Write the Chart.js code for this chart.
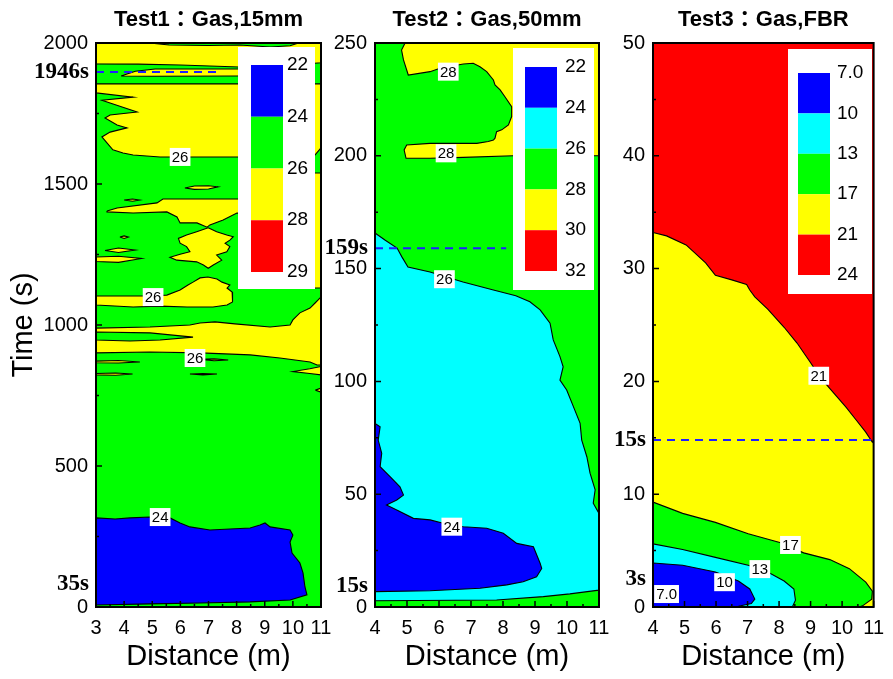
<!DOCTYPE html>
<html>
<head>
<meta charset="utf-8">
<title>Gas temperature contours</title>
<script src="https://cdn.jsdelivr.net/npm/chart.js@4.4.1/dist/chart.umd.min.js"></script>
<style>
  html, body { margin: 0; padding: 0; background: #fff; }
  #wrap { position: relative; width: 893px; height: 679px; overflow: hidden; }
  canvas { position: absolute; top: 0; }
</style>
</head>
<body>
<div id="wrap">
  <canvas id="c1" width="345" height="679" style="left:0px"></canvas>
  <canvas id="c2" width="300" height="679" style="left:325px"></canvas>
  <canvas id="c3" width="293" height="679" style="left:600px"></canvas>
</div>
<script>
// colours of the contour levels
var BLUE = '#0000ff', CYAN = '#00ffff', GREEN = '#00ff00', YELLOW = '#ffff00', RED = '#ff0000';
var FONT = "'Liberation Sans', Arial, 'Noto Sans CJK TC', sans-serif";
var SERIF = "'Liberation Serif', 'Times New Roman', serif";

// ---------- Test1 : Gas,15mm ----------
var t1Levels = ['22', '24', '26', '28', '29'];
var t1LegendColors = [BLUE, GREEN, YELLOW, RED];
var t1Base = [[3, 0], [11, 0], [11, 2000], [3, 2000]];
var t1Yellow = [
  [[3, 2000], [11, 2000], [11, 1930], [9.5, 1918], [8.1, 1915], [6, 1922], [4.5, 1925], [3, 1926]],
  [[3.89, 1883], [4.4, 1900], [5.1, 1908], [8.1, 1908], [10.5, 1905], [10.6, 1893], [10.5, 1886], [8, 1883], [5, 1882]],
  [[3, 1855], [11, 1855], [11, 1628], [10.79, 1603], [8.12, 1596], [6.7, 1596], [5.28, 1596], [4.32, 1603], [3.96, 1610],
   [3.6, 1621], [3.39, 1646], [3.21, 1667], [3.5, 1684], [4.1, 1699], [3.75, 1709], [3.32, 1734], [3.5, 1745],
   [4.46, 1755], [3.5, 1787], [3.21, 1797], [4.32, 1808], [3, 1823]],
  [[6.16, 1486], [6.5, 1493], [7.0, 1494], [7.34, 1490], [7.0, 1482], [6.5, 1481]],
  [[10.75, 1539], [11, 1539], [11, 1131], [10.75, 1131]],
  [[4.0, 1443], [4.3, 1447], [4.55, 1443], [4.3, 1439]],
  [[3.39, 1404], [3.75, 1415], [5.17, 1433], [5.38, 1447], [8.01, 1447], [9.9, 1443], [9.9, 1394], [8.01, 1397],
   [7.52, 1372], [7.05, 1355], [6.95, 1347], [6.59, 1362], [5.99, 1362], [5.88, 1383], [5.52, 1401], [4.32, 1397], [3.39, 1401]],
  [[6.99, 1345], [7.29, 1331], [7.65, 1319], [7.88, 1313], [7.76, 1301], [7.59, 1290], [7.76, 1278], [7.65, 1260],
   [7.29, 1248], [7.47, 1230], [7.17, 1213], [6.99, 1201], [6.82, 1213], [6.58, 1224], [5.87, 1230], [5.63, 1240],
   [5.99, 1251], [6.34, 1260], [6.22, 1278], [5.99, 1290], [5.93, 1307], [6.22, 1319], [6.58, 1331]],
  [[3.85, 1312], [4.0, 1316], [4.15, 1312], [4.0, 1307]],
  [[3.32, 1264], [3.8, 1273], [4.39, 1266], [3.8, 1257]],
  [[3, 1241], [3.8, 1244], [4.62, 1236], [3.8, 1222], [3, 1225]],
  [[3, 1103], [4.81, 1103], [5.52, 1106], [5.99, 1124], [6.27, 1142], [6.45, 1152], [6.7, 1167], [6.98, 1170],
   [7.3, 1163], [7.48, 1152], [7.76, 1142], [7.66, 1131], [7.84, 1117], [7.87, 1099], [7.84, 1082], [7.66, 1071],
   [7.16, 1064], [6.24, 1064], [5.28, 1067], [4.32, 1064], [3, 1071]],
  [[3, 989], [4.92, 993], [6.34, 1000], [6.7, 1007], [7.23, 1011], [7.94, 1004], [9.19, 993], [9.9, 1000], [10.0, 1018],
   [10.25, 1043], [10.61, 1060], [10.79, 1078], [11, 1099], [11, 858], [10.86, 858], [10.61, 869], [9.54, 883],
   [8.48, 894], [6.7, 901], [4.92, 904], [3, 901]],
  [[11, 853], [10.6, 845], [10.0, 835], [10.6, 828], [11, 823]],
  [[3, 872], [3.8, 874], [4.56, 869], [3.8, 865], [3, 866]],
  [[6.7, 878], [7.2, 880], [7.7, 876], [7.2, 873]],
  [[6.34, 826], [6.8, 828], [7.3, 826], [6.8, 823]],
  [[3, 828], [3.7, 830], [4.3, 826], [3.7, 822], [3, 823]],
  [[10.8, 769], [11, 776], [11, 762]]
];
var t1Green = [
  [[4.9, 2000], [5.6, 1993], [7, 1991], [8.1, 1993], [9.2, 1986], [9.9, 1990], [10.2, 2000]],
  [[3, 975], [4.92, 972], [6.45, 957], [5.28, 947], [4.21, 943], [3, 947]]
];
var t1Blue = [[3, 316], [3.68, 312], [4.21, 316], [4.92, 319], [5.63, 316], [5.99, 298], [6.34, 284], [7.05, 273],
  [8.48, 280], [8.83, 291], [9.01, 298], [9.19, 284], [9.9, 273], [10.0, 255], [9.9, 230], [9.97, 191], [10.25, 156],
  [10.36, 121], [10.43, 71], [10.5, 43], [9.9, 25], [8.48, 18], [6.7, 14], [4.92, 11], [3, 7]];
var t1LabelX = [5.99, 5.03, 6.52, 5.28];
var t1LabelY = [1596, 1099, 883, 319];
var t1LabelText = ['26', '26', '26', '24'];
var t1MarkText = ['1946s', '35s'];
var t1MarkY = [1897, 82];
var t1DashX = [3, 7.4];
var t1DashY = 1897;

// ---------- Test2 : Gas,50mm ----------
var t2Levels = ['22', '24', '26', '28', '30', '32'];
var t2LegendColors = [BLUE, CYAN, GREEN, YELLOW, RED];
var t2Base = [[4, 0], [11, 0], [11, 250], [4, 250]];
var t2Yellow = [[4.94, 250], [11, 250], [11, 200], [8.32, 200], [6.76, 199.3], [5.72, 198.9], [4.97, 198.9],
  [4.91, 202.6], [4.99, 204.8], [5.72, 205.5], [7.18, 205.5], [7.54, 206.3], [7.7, 207], [7.75, 207.8], [7.8, 210.7],
  [7.96, 211.5], [8.17, 213.7], [8.27, 217.4], [8.27, 221.8], [8.06, 226.2], [7.91, 229.2], [7.75, 231.4],
  [7.7, 233.6], [7.49, 237.3], [7.28, 239.5], [7.07, 241], [6.76, 240.7], [6.03, 238.8], [5.72, 237.3],
  [5.04, 235.8], [4.89, 242.5], [4.83, 246.9]];
var t2Cyan = [[4, 165.8], [4.31, 162.7], [4.69, 159.1], [4.84, 155.2], [5.03, 150.7], [5.72, 148.5], [6.75, 144.1],
  [7.7, 140.5], [8.4, 138], [8.84, 135.3], [9.16, 131.7], [9.47, 125.8], [9.57, 118.4], [9.78, 111], [9.88, 106.5],
  [9.78, 100.6], [9.99, 96.2], [10.2, 88.8], [10.41, 81.4], [10.46, 74], [10.62, 66.6], [10.72, 59.3], [10.88, 51.9],
  [10.82, 46], [11, 41.5], [11, 7.5], [10.09, 5.8], [9.26, 4.6], [7.8, 3.1], [4, 2.8]];
var t2Blue = [[4, 81.4], [4.16, 79.9], [4.1, 74], [4.21, 68.1], [4.16, 62.2], [4.47, 57.8], [4.78, 53.3], [4.89, 49.6],
  [4.68, 47.4], [4.36, 45.2], [4.68, 43], [5.2, 39.3], [5.72, 38.6], [6.13, 37.1], [6.76, 35.6], [7.49, 34.9],
  [8.01, 32.7], [8.43, 28.2], [8.95, 26.7], [9.16, 19.4], [9.21, 17.1], [9.05, 13.4], [8.63, 11.2], [8.12, 9.8],
  [7.28, 8.3], [5.72, 7.2], [4, 6.8]];
var t2LabelX = [6.29, 6.22, 6.17, 6.4];
var t2LabelY = [237.3, 201.1, 145.3, 35.6];
var t2LabelText = ['28', '28', '26', '24'];
var t2MarkText = ['159s', '15s'];
var t2MarkY = [159, 9.3];
var t2DashX = [4, 8.1];
var t2DashY = 159;

// ---------- Test3 : Gas,FBR ----------
var t3Levels = ['7.0', '10', '13', '17', '21', '24'];
var t3LegendColors = [BLUE, CYAN, GREEN, YELLOW, RED];
var t3Base = [[4, 0], [11, 0], [11, 50], [4, 50]];
var t3Red = [[4, 50], [11, 50], [11, 14.8], [10.96, 14.6], [10.75, 15.5], [10.44, 16.6], [10.13, 17.7], [9.82, 18.7],
  [9.51, 19.7], [9.25, 20.6], [8.99, 21.7], [8.57, 23.4], [8.16, 24.8], [7.64, 26.4], [7.23, 27.5], [7.07, 28.1],
  [6.97, 28.6], [6.5, 29.0], [5.98, 29.4], [5.67, 30.5], [5.05, 32.1], [4.43, 32.9], [4, 33.2]];
var t3Green = [[4, 9.3], [4.94, 8.3], [5.98, 7.5], [7.02, 6.5], [8.05, 5.7], [8.78, 4.8], [9.61, 4.2], [10.23, 3.4],
  [10.75, 2.2], [10.96, 1.4], [10.94, 0.7], [10.65, 0.1], [10.54, 0], [4, 0]];
var t3Cyan = [[4, 5.6], [4.94, 5.1], [5.98, 4.4], [7.02, 3.7], [7.64, 3.1], [8.16, 2.3], [8.47, 1.6], [8.52, 0.6],
  [8.42, 0], [4, 0]];
var t3Blue = [[4, 3.9], [4.94, 3.7], [5.98, 3.1], [6.71, 2.3], [7.07, 1.6], [7.23, 0.7], [7.12, 0.3], [6.71, 0.06],
  [5.46, 0], [4, 0]];
var t3LabelX = [9.26, 8.36, 7.39, 6.27, 4.43];
var t3LabelY = [20.5, 5.5, 3.36, 2.2, 1.15];
var t3LabelText = ['21', '17', '13', '10', '7.0'];
var t3MarkText = ['15s', '3s'];
var t3MarkY = [14.8, 2.5];
var t3DashX = [4, 11];
var t3DashY = 14.8;

function toPoints(poly) {
  return poly.map(function (p) { return { x: p[0], y: p[1] }; });
}

// one filled contour polygon, outlined in black
function region(poly, color, edge) {
  return {
    data: toPoints(poly.concat([poly[0]])),
    backgroundColor: color,
    borderColor: '#000',
    borderWidth: edge ? 1.1 : 0,
    fill: 'shape',
    pointRadius: 0,
    tension: 0
  };
}

// labels on the contours, legend box, frame with inner ticks, time marks
function decor(p) {
  return {
    id: 'decor',
    afterDatasetsDraw: function (chart) {
      var ctx = chart.ctx, xs = chart.scales.x, ys = chart.scales.y, a = chart.chartArea;
      ctx.save();
      ctx.font = '15px ' + FONT;
      ctx.textAlign = 'center';
      ctx.textBaseline = 'middle';
      p.labelText.forEach(function (t, i) {
        var px = xs.getPixelForValue(p.labelX[i]), py = ys.getPixelForValue(p.labelY[i]);
        var w = ctx.measureText(t).width + 4;
        ctx.fillStyle = '#fff';
        ctx.fillRect(px - w / 2, py - 9, w, 18);
        ctx.fillStyle = '#000';
        ctx.fillText(t, px, py + 1);
      });
      var L = p.legend;
      ctx.fillStyle = '#fff';
      ctx.fillRect(a.left + L.box[0], a.top + L.box[1], L.box[2], L.box[3]);
      var h = L.sw[3] / p.legendColors.length;
      p.legendColors.forEach(function (c, i) {
        ctx.fillStyle = c;
        ctx.fillRect(a.left + L.sw[0], a.top + L.sw[1] + i * h, L.sw[2], h);
      });
      ctx.fillStyle = '#000';
      ctx.font = '19px ' + FONT;
      ctx.textAlign = 'left';
      p.levels.forEach(function (t, i) {
        ctx.fillText(t, a.left + L.labelDx, a.top + L.sw[1] + i * h);
      });
      ctx.restore();
    },
    afterDraw: function (chart) {
      var ctx = chart.ctx, xs = chart.scales.x, ys = chart.scales.y, a = chart.chartArea;
      ctx.save();
      ctx.strokeStyle = '#000';
      ctx.lineWidth = 1.5;
      ctx.beginPath();
      xs.ticks.forEach(function (t) {
        var px = xs.getPixelForValue(t.value), len = Number.isInteger(t.value) ? 6 : 3;
        ctx.moveTo(px, a.bottom);
        ctx.lineTo(px, a.bottom - len);
      });
      ys.ticks.forEach(function (t) {
        var py = ys.getPixelForValue(t.value), len = t.value % p.yMajor === 0 ? 6 : 3;
        ctx.moveTo(a.left, py);
        ctx.lineTo(a.left + len, py);
      });
      ctx.stroke();
      ctx.lineWidth = 2;
      ctx.strokeRect(a.left, a.top, a.right - a.left, a.bottom - a.top);
      ctx.fillStyle = '#000';
      ctx.font = 'bold 23px ' + SERIF;
      ctx.textAlign = 'right';
      ctx.textBaseline = 'middle';
      p.markText.forEach(function (t, i) {
        ctx.fillText(t, a.left - 7, ys.getPixelForValue(p.markY[i]));
      });
      ctx.restore();
    }
  };
}

function makePanel(id, p) {
  var datasets = [];
  p.regions.forEach(function (r, i) {
    var d = region(r[0], r[1], r[2]);
    d.order = p.regions.length - i + 1;
    datasets.push(d);
  });
  datasets.push({
    data: toPoints([[p.dashX[0], p.dashY], [p.dashX[1], p.dashY]]),
    borderColor: '#1f1fff',
    borderWidth: 2,
    borderDash: [8, 6],
    fill: false,
    pointRadius: 0,
    order: 0
  });

  new Chart(document.getElementById(id), {
    type: 'line',
    data: { datasets: datasets },
    options: {
      responsive: false,
      animation: false,
      devicePixelRatio: 1,
      events: [],
      layout: { padding: { left: 0, right: p.padRight, top: 0, bottom: 0 }, autoPadding: false },
      plugins: {
        legend: { display: false },
        tooltip: { enabled: false },
        title: {
          display: true,
          text: p.title,
          color: '#000',
          fullSize: false,
          font: { size: 22, weight: 'bold', family: FONT },
          padding: { top: 6.8, bottom: 9.8 }
        }
      },
      scales: {
        x: {
          type: 'linear',
          min: p.xMin,
          max: 11,
          grid: { display: false, drawTicks: false },
          border: { display: false },
          ticks: {
            stepSize: 0.5,
            autoSkip: false,
            maxRotation: 0,
            padding: 9,
            color: '#000',
            font: { size: 20, family: FONT },
            callback: function (v) { return Number.isInteger(v) ? String(v) : ''; }
          },
          title: {
            display: true,
            text: 'Distance (m)',
            color: '#000',
            font: { size: 29, family: FONT },
            padding: { top: 0, bottom: 4.6 }
          },
          afterFit: function (s) { s.height = 72; }
        },
        y: {
          type: 'linear',
          min: 0,
          max: p.yMax,
          grid: { display: false, drawTicks: false },
          border: { display: false },
          ticks: {
            stepSize: p.yMinor,
            autoSkip: false,
            padding: 8,
            color: '#000',
            font: { size: 20, family: FONT },
            callback: function (v) { return v % p.yMajor === 0 ? String(v) : ''; }
          },
          title: {
            display: p.yTitle,
            text: 'Time (s)',
            color: '#000',
            font: { size: 29, family: FONT },
            padding: { top: 6.6, bottom: 0 }
          },
          afterFit: function (s) { s.width = p.yWidth; }
        }
      }
    },
    plugins: [decor(p)]
  });
}

var t1Regions = [[t1Base, GREEN, false]];
t1Yellow.forEach(function (poly) { t1Regions.push([poly, YELLOW, true]); });
t1Green.forEach(function (poly) { t1Regions.push([poly, GREEN, true]); });
t1Regions.push([t1Blue, BLUE, true]);

makePanel('c1', {
  title: 'Test1：Gas,15mm', xMin: 3, yMax: 2000, yMinor: 250, yMajor: 500,
  yWidth: 96, padRight: 24, yTitle: true,
  regions: t1Regions,
  labelX: t1LabelX, labelY: t1LabelY, labelText: t1LabelText,
  markText: t1MarkText, markY: t1MarkY, dashX: t1DashX, dashY: t1DashY,
  levels: t1Levels, legendColors: t1LegendColors,
  legend: { box: [142, 4, 77, 242], sw: [155, 22, 32, 207], labelDx: 191 }
});

makePanel('c2', {
  title: 'Test2：Gas,50mm', xMin: 4, yMax: 250, yMinor: 25, yMajor: 50,
  yWidth: 50, padRight: 26, yTitle: false,
  regions: [[t2Base, GREEN, false], [t2Yellow, YELLOW, true], [t2Cyan, CYAN, true], [t2Blue, BLUE, true]],
  labelX: t2LabelX, labelY: t2LabelY, labelText: t2LabelText,
  markText: t2MarkText, markY: t2MarkY, dashX: t2DashX, dashY: t2DashY,
  levels: t2Levels, legendColors: t2LegendColors,
  legend: { box: [138, 5, 81, 242], sw: [150, 24, 32, 204], labelDx: 190 }
});

makePanel('c3', {
  title: 'Test3：Gas,FBR', xMin: 4, yMax: 50, yMinor: 5, yMajor: 10,
  yWidth: 53, padRight: 15, yTitle: false,
  regions: [[t3Base, YELLOW, false], [t3Red, RED, true], [t3Green, GREEN, true], [t3Cyan, CYAN, true], [t3Blue, BLUE, true]],
  labelX: t3LabelX, labelY: t3LabelY, labelText: t3LabelText,
  markText: t3MarkText, markY: t3MarkY, dashX: t3DashX, dashY: t3DashY,
  levels: t3Levels, legendColors: t3LegendColors,
  legend: { box: [135, 6, 84, 245], sw: [145, 30, 32, 202], labelDx: 184 }
});
</script>
</body>
</html>
